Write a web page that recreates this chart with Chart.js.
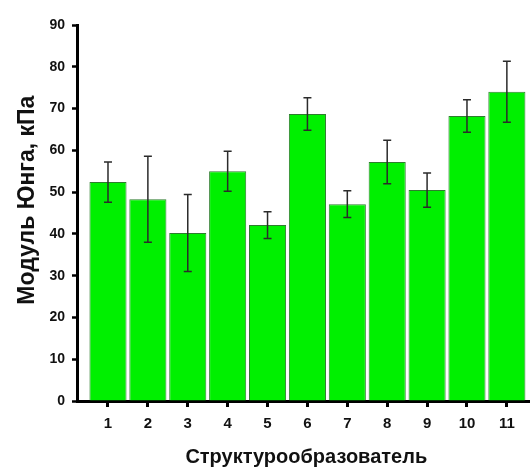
<!DOCTYPE html>
<html>
<head>
<meta charset="utf-8">
<script src="https://cdn.jsdelivr.net/npm/chart.js@4"></script>
<style>
  html, body { margin: 0; padding: 0; background: #fff; }
  #wrap { width: 530px; height: 467px; }
</style>
</head>
<body>
<div id="wrap"><canvas id="grafico"></canvas></div>
<script>
const categorias = [1, 2, 3, 4, 5, 6, 7, 8, 9, 10, 11];
const modulo = [52.4, 48.3, 40.2, 55.0, 42.1, 68.7, 47.1, 57.2, 50.5, 68.2, 74.0];
const erro = [4.8, 10.3, 9.2, 4.8, 3.2, 3.9, 3.2, 5.2, 4.1, 3.9, 7.3];
const ticksY = [0, 10, 20, 30, 40, 50, 60, 70, 80, 90];

// barras de erro desenhadas por cima das colunas
const barrasErro = {
  id: 'barrasErro',
  afterDatasetsDraw(chart) {
    const ctx = chart.ctx;
    const x = chart.scales.x, y = chart.scales.y;
    ctx.save();
    ctx.strokeStyle = '#2b2b2b';
    ctx.lineWidth = 1.5;
    categorias.forEach((c, i) => {
      const px = x.getPixelForValue(c);
      const top = y.getPixelForValue(modulo[i] + erro[i]);
      const bot = y.getPixelForValue(modulo[i] - erro[i]);
      ctx.beginPath();
      ctx.moveTo(px, top); ctx.lineTo(px, bot);
      ctx.moveTo(px - 4, top); ctx.lineTo(px + 4, top);
      ctx.moveTo(px - 4, bot); ctx.lineTo(px + 4, bot);
      ctx.stroke();
    });
    ctx.restore();
  }
};

new Chart(document.getElementById('grafico'), {
  type: 'bar',
  data: {
    datasets: [{
      data: categorias.map((c, i) => ({ x: c, y: modulo[i] })),
      backgroundColor: '#00f000',
      borderColor: '#2e7d2e',
      borderWidth: 1,
      barPercentage: 0.93,
      categoryPercentage: 1
    }]
  },
  options: {
    responsive: true,
    maintainAspectRatio: false,
    animation: false,
    layout: { padding: { top: 25, right: 0, left: 0, bottom: 0 } },
    plugins: { legend: { display: false }, tooltip: { enabled: false } },
    scales: {
      x: {
        type: 'linear',
        offset: false,
        min: 0.223,
        max: 11.58,
        afterBuildTicks: s => { s.ticks = categorias.map(v => ({ value: v })); },
        afterFit: s => { s.height = 66; },
        grid: { offset: false, drawOnChartArea: false, drawTicks: true, tickLength: 6, tickColor: '#000', tickWidth: 3, color: '#000' },
        border: { display: true, color: '#000', width: 3 },
        ticks: { color: '#111', font: { family: 'Liberation Sans', weight: 'bold', size: 15 }, padding: 8 },
        title: {
          display: true, text: ' Структурообразователь', color: '#111',
          font: { family: 'Liberation Sans', weight: 'bold', size: 20, lineHeight: 1 }, padding: { top: 0, bottom: 0 }
        }
      },
      y: {
        min: 0,
        max: 90,
        afterBuildTicks: s => { s.ticks = ticksY.map(v => ({ value: v })); },
        afterFit: s => { s.width = 77; },
        grid: { drawOnChartArea: false, drawTicks: true, tickLength: 5, tickColor: '#000', tickWidth: 2.5 },
        border: { display: true, color: '#000', width: 3 },
        ticks: { color: '#111', font: { family: 'Liberation Sans', weight: 'bold', size: 14 }, padding: 7 },
        title: {
          display: true, text: '    Модуль Юнга, кПа', color: '#111',
          font: { family: 'Liberation Sans', weight: 'bold', size: 23 }, padding: { top: 14, bottom: 4 }
        }
      }
    }
  },
  plugins: [barrasErro]
});
</script>
</body>
</html>
